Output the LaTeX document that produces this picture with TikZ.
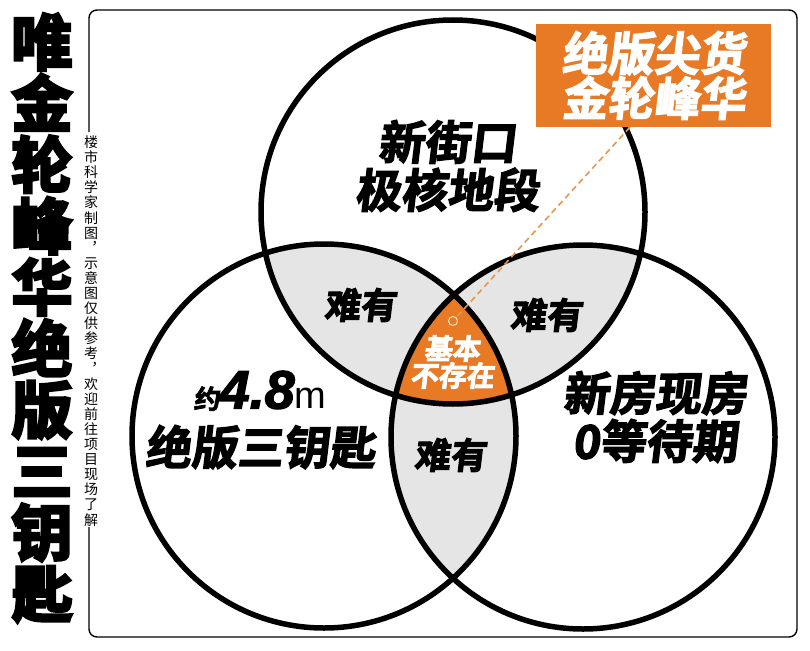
\documentclass[tikz,border=0pt]{standalone}
\usepackage{fontspec}
\newfontfamily\cjk{Noto Sans CJK SC}
\newfontfamily\cjkhv{Noto Sans CJK SC Bold}[FakeBold=3,FakeSlant=0.12]
\newfontfamily\cjktitle{Noto Sans CJK SC Bold}[FakeBold=5]
\newfontfamily\latin{Liberation Sans}
\newfontfamily\latinbi{Liberation Sans Bold Italic}[FakeBold=2.5]
\usetikzlibrary{positioning,calc}
\definecolor{tagorange}{RGB}{232,122,38}
\definecolor{lensgray}{RGB}{229,229,229}
\definecolor{dashorange}{RGB}{230,150,80}
\definecolor{pinring}{RGB}{255,228,196}

\begin{document}
\begin{tikzpicture}[x=1pt,y=-1pt,
  ring/.style={line width=5.5pt},
  big/.style={font=\cjkhv\fontsize{46}{48}\selectfont,align=center,inner sep=0pt},
  lens/.style={font=\cjkhv\fontsize{36}{38}\selectfont,inner sep=0pt},
  core/.style={font=\cjkhv\fontsize{28}{27}\selectfont,text=white,align=center,inner sep=0pt},
  tag/.style={fill=tagorange,text=white,align=center,minimum width=235pt,minimum height=103pt,
    font=\cjkhv\fontsize{46}{45}\selectfont},
  link/.style={dashorange,line width=1.6pt,dash pattern=on 6pt off 4pt},
]
\useasboundingbox (0,0) rectangle (810,650);
% frame, open on the left where the note runs
\draw[line width=1.4pt,rounded corners=8pt] (89,132) -- (89,10) -- (797,10) -- (797,637) -- (89,637) -- (89,527);
% circle centres
\coordinate (ct) at (453,212);
\coordinate (cl) at (324,436);
\coordinate (cr) at (583,437);
% pairwise overlaps
\begin{scope}
  \clip (ct) circle[radius=192pt];
  \fill[lensgray] (cl) circle[radius=192pt];
  \fill[lensgray] (cr) circle[radius=192pt];
\end{scope}
\begin{scope}
  \clip (cl) circle[radius=192pt];
  \fill[lensgray] (cr) circle[radius=192pt];
\end{scope}
% triple overlap
\begin{scope}
  \clip (ct) circle[radius=192pt];
  \clip (cl) circle[radius=192pt];
  \fill[tagorange] (cr) circle[radius=192pt];
\end{scope}
\foreach \c in {ct,cl,cr}{\draw[ring] (\c) circle[radius=192pt];}
% labels
\node[big] (top) at (447,166) {新街口\\极核地段};
\node[big] (lft) at (260,420) {{\fontsize{26}{26}\selectfont 约}{\latinbi\fontsize{54}{54}\selectfont 4.8}{\latin\fontsize{38}{38}\selectfont m}\\[8pt]绝版三钥匙};
\node[big] (rgt) at (655,417) {新房现房\\0等待期};
\node[lens] (ab) at (360,305) {难有};
\node[lens] (ac) at (546,315) {难有};
\node[lens] (bc) at (450,455) {难有};
\node[core] (mid) at (452,362) {基本\\不存在};
% callout
\node[tag] (hot) at (653.5,75.5) {绝版尖货\\金轮峰华};
\node[circle,draw=pinring,fill=tagorange,line width=1pt,minimum size=9pt,inner sep=0pt] (pin) at (453,321) {};
\draw[link] ($(hot.south west)!0.4!(hot.south east)$) -- (pin);
% side texts
\node[font=\cjktitle\fontsize{61}{61.3}\selectfont,align=center,inner sep=0pt] (title) at (42,318) {唯\\金\\轮\\峰\\华\\绝\\版\\三\\钥\\匙};
\node[font=\cjk\fontsize{14}{15.1}\selectfont,align=center,inner sep=0pt] (note) at (91,331)
  {楼\\市\\科\\学\\家\\制\\图\\︐\\示\\意\\图\\仅\\供\\参\\考\\︐\\欢\\迎\\前\\往\\项\\目\\现\\场\\了\\解};
\end{tikzpicture}
\end{document}
